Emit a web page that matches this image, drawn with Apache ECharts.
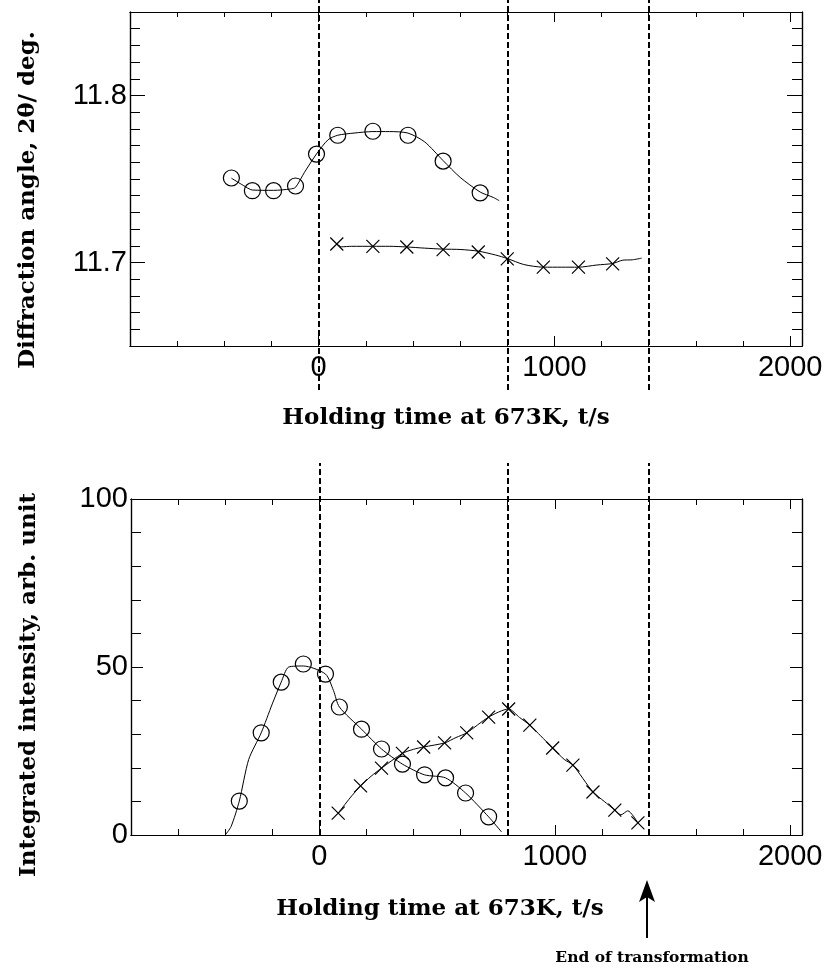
<!DOCTYPE html>
<html>
<head>
<meta charset="utf-8">
<script src="https://cdn.jsdelivr.net/npm/echarts@6/dist/echarts.min.js"></script>
<style>
  html, body { margin: 0; padding: 0; background: #fff; }
  #main { width: 834px; height: 973px; }
</style>
</head>
<body>
<div id="main"></div>
<script>
// ---- x axis (shared) ----
const X_MIN = -800, X_MAX = 2050;
const xMinorTicks = [-800, -600, -400, -200, 0, 200, 400, 600, 800, 1000, 1200, 1400, 1600, 1800, 2000];
const xMajorTicks = [0, 1000, 2000];
const xLabels = [0, 1000, 2000];

// dashed marker times (start, 800 s, end of transformation)
const markTimes = [0, 800, 1400];

// ---- top panel: diffraction angle ----
const topYMinor = [11.66, 11.67, 11.68, 11.69, 11.7, 11.71, 11.72, 11.73, 11.74, 11.75, 11.76, 11.77, 11.78, 11.79, 11.8, 11.81, 11.82, 11.83, 11.84];
const topYMajor = [11.7, 11.8];
const topYLabels = [11.7, 11.8];

// circles
const angCircT = [-370, -281, -191, -98, -9, 81, 230, 379, 528, 685];
const angCircV = [11.7506, 11.7430, 11.7430, 11.7458, 11.7649, 11.7762, 11.7786, 11.7762, 11.7607, 11.7417];
// fitted curve through circles
const angCircFitT = [-370, -320, -281, -191, -120, -98, -60, -9, 40, 81, 150, 230, 300, 379, 450, 528, 600, 685, 740, 766];
const angCircFitV = [11.7505, 11.7462, 11.7434, 11.7432, 11.7440, 11.7450, 11.7540, 11.7650, 11.7735, 11.7762, 11.7775, 11.7784, 11.7784, 11.7775, 11.7722, 11.7610, 11.7510, 11.7422, 11.7390, 11.7370];

// crosses
const angCrossT = [77, 230, 374, 528, 677, 800, 953, 1102, 1247];
const angCrossV = [11.7111, 11.7097, 11.7093, 11.7077, 11.7063, 11.7022, 11.6972, 11.6972, 11.6992];
const angCrossFitT = [77, 97, 140, 230, 300, 374, 450, 528, 600, 677, 750, 800, 870, 953, 1030, 1102, 1180, 1247, 1290, 1330, 1370];
const angCrossFitV = [11.7111, 11.7094, 11.7097, 11.7097, 11.7097, 11.7093, 11.7086, 11.7080, 11.7078, 11.7068, 11.7045, 11.7024, 11.6988, 11.6972, 11.6972, 11.6972, 11.6985, 11.6994, 11.7014, 11.7016, 11.7026];

// ---- bottom panel: integrated intensity ----
const botYMinor = [10, 20, 30, 40, 50, 60, 70, 80, 90];
const botYMajor = [0, 50, 100];
const botYLabels = [0, 50, 100];

const intCircT = [-340, -247, -162, -68, 26, 85, 179, 264, 353, 447, 536, 621, 719];
const intCircV = [10.1, 30.4, 45.5, 50.9, 47.9, 38.1, 31.5, 25.6, 21.1, 17.9, 17.0, 12.5, 5.4];
const intCircFitT = [-400, -375, -340, -300, -247, -200, -162, -130, -68, 26, 60, 85, 179, 264, 353, 447, 536, 621, 719, 774];
const intCircFitV = [0, 2.5, 10.1, 22.5, 30.4, 39.0, 45.5, 50.0, 50.3, 47.9, 43.0, 38.1, 31.5, 25.6, 21.1, 17.9, 17.0, 12.5, 5.4, 0.9];

const intCrossT = [80, 175, 264, 353, 443, 532, 626, 719, 804, 894, 991, 1077, 1162, 1255, 1353];
const intCrossV = [6.5, 14.6, 19.9, 24.3, 26.2, 27.4, 30.4, 35.1, 37.5, 32.7, 25.9, 20.8, 12.8, 7.4, 3.6];
const intCrossFitT = [80, 130, 175, 220, 264, 353, 400, 443, 532, 580, 626, 719, 804, 850, 894, 940, 991, 1040, 1077, 1162, 1210, 1255, 1281, 1310, 1353];
const intCrossFitV = [6.5, 11.0, 14.6, 17.5, 19.9, 24.3, 25.5, 26.2, 27.4, 29.0, 30.4, 35.1, 37.5, 35.0, 32.7, 29.5, 25.9, 22.5, 20.8, 12.8, 10.0, 7.4, 6.0, 7.2, 3.6];

// ---- helpers ----
const INK = '#000';
const LABEL_FONT = 'Liberation Sans';
const TITLE_FONT = 'bold 23px "DejaVu Serif"';
const CROSS = 'path://M0,0L10,10M10,0L0,10';

function pairs(t, v) { return t.map((x, i) => [x, v[i]]); }

function xAx(grid, pos, ticks, len, labels) {
  return {
    type: 'value', gridIndex: grid, position: pos, min: X_MIN, max: X_MAX,
    axisLine: { show: true, onZero: false, lineStyle: { color: INK, width: 1.2 } },
    axisTick: { show: true, inside: true, length: len, customValues: ticks, lineStyle: { color: INK, width: 1 } },
    axisLabel: labels ? { show: true, customValues: labels, formatter: v => String(v), color: INK, fontFamily: LABEL_FONT, fontSize: 29, margin: 7 } : { show: false },
    splitLine: { show: false }
  };
}

function yAx(grid, pos, min, max, ticks, len, labels) {
  return {
    type: 'value', gridIndex: grid, position: pos, min: min, max: max,
    axisLine: { show: true, onZero: false, lineStyle: { color: INK, width: 1.2 } },
    axisTick: { show: true, inside: true, length: len, customValues: ticks, lineStyle: { color: INK, width: 1 } },
    axisLabel: labels ? { show: true, customValues: labels, formatter: v => String(v), color: INK, fontFamily: LABEL_FONT, fontSize: 29, margin: 3 } : { show: false },
    splitLine: { show: false }
  };
}

function hiddenX(grid) {
  return { type: 'value', gridIndex: grid, min: X_MIN, max: X_MAX, show: false };
}
function hiddenY(grid) {
  return { type: 'value', gridIndex: grid, min: 0, max: 1, show: false };
}

function fitLine(name, xi, yi, data) {
  return {
    name, type: 'line', xAxisIndex: xi, yAxisIndex: yi, data,
    showSymbol: false, smooth: 0.25, silent: true,
    lineStyle: { color: INK, width: 1 }, z: 3
  };
}
function markers(name, xi, yi, data, symbol) {
  return {
    name, type: 'scatter', xAxisIndex: xi, yAxisIndex: yi, data,
    symbol, symbolSize: symbol === CROSS ? 13 : 16, silent: true,
    itemStyle: { color: 'rgba(0,0,0,0)', opacity: 1, borderColor: INK, borderWidth: 1.2 },
    z: 4
  };
}
function dashes(xi, yi) {
  return {
    type: 'scatter', xAxisIndex: xi, yAxisIndex: yi, data: [], silent: true,
    markLine: {
      silent: true, symbol: ['none', 'none'], label: { show: false },
      lineStyle: { color: INK, width: 2, type: [6, 3] },
      data: markTimes.map(t => ({ xAxis: t }))
    },
    z: 5
  };
}

// axes: grid0 x 0..3, grid1 x 4..7, overlays 8, 9
const xAxes = [
  xAx(0, 'bottom', xMinorTicks, 5, xLabels), xAx(0, 'bottom', xMajorTicks, 10),
  xAx(0, 'top', xMinorTicks, 5), xAx(0, 'top', xMajorTicks, 10),
  xAx(1, 'bottom', xMinorTicks, 6, xLabels), xAx(1, 'bottom', xMajorTicks, 10),
  xAx(1, 'top', xMinorTicks, 6), xAx(1, 'top', xMajorTicks, 10),
  hiddenX(2), hiddenX(3)
];
const yAxes = [
  yAx(0, 'left', 11.65, 11.85, topYMinor, 10, topYLabels), yAx(0, 'left', 11.65, 11.85, topYMajor, 15),
  yAx(0, 'right', 11.65, 11.85, topYMinor, 10), yAx(0, 'right', 11.65, 11.85, topYMajor, 15),
  yAx(1, 'left', 0, 100, botYMinor, 10, botYLabels), yAx(1, 'left', 0, 100, botYMajor, 12),
  yAx(1, 'right', 0, 100, botYMinor, 10), yAx(1, 'right', 0, 100, botYMajor, 12),
  hiddenY(2), hiddenY(3)
];

const chart = echarts.init(document.getElementById('main'), null, { renderer: 'canvas' });

chart.setOption({
  backgroundColor: '#fff',
  animation: false,
  grid: [
    { left: 130, top: 12, width: 672, height: 334, containLabel: false },
    { left: 131, top: 499, width: 671, height: 336, containLabel: false },
    { left: 130, top: 0, width: 672, height: 390, containLabel: false },
    { left: 131, top: 463, width: 671, height: 372, containLabel: false }
  ],
  xAxis: xAxes,
  yAxis: yAxes,
  series: [
    fitLine('angle-circle-fit', 0, 0, pairs(angCircFitT, angCircFitV)),
    markers('angle-circle', 0, 0, pairs(angCircT, angCircV), 'circle'),
    fitLine('angle-cross-fit', 0, 0, pairs(angCrossFitT, angCrossFitV)),
    markers('angle-cross', 0, 0, pairs(angCrossT, angCrossV), CROSS),
    fitLine('int-circle-fit', 4, 4, pairs(intCircFitT, intCircFitV)),
    markers('int-circle', 4, 4, pairs(intCircT, intCircV), 'circle'),
    fitLine('int-cross-fit', 4, 4, pairs(intCrossFitT, intCrossFitV)),
    markers('int-cross', 4, 4, pairs(intCrossT, intCrossV), CROSS),
    dashes(8, 8),
    dashes(9, 9)
  ],
  graphic: [
    { type: 'text', x: 28, y: 200, rotation: Math.PI / 2,
      style: { text: 'Diffraction angle, 2θ/ deg.', font: TITLE_FONT, fill: INK, align: 'center', verticalAlign: 'middle' } },
    { type: 'text', x: 29, y: 685, rotation: Math.PI / 2,
      style: { text: 'Integrated intensity, arb. unit', font: TITLE_FONT, fill: INK, align: 'center', verticalAlign: 'middle' } },
    { type: 'text', x: 446, y: 418,
      style: { text: 'Holding time at 673K, t/s', font: TITLE_FONT, fill: INK, align: 'center', verticalAlign: 'middle' } },
    { type: 'text', x: 440, y: 909,
      style: { text: 'Holding time at 673K, t/s', font: TITLE_FONT, fill: INK, align: 'center', verticalAlign: 'middle' } },
    { type: 'line', shape: { x1: 647, y1: 938, x2: 647, y2: 895 }, style: { stroke: INK, lineWidth: 2 } },
    { type: 'polygon', shape: { points: [[647, 880], [639, 902], [647, 897], [655, 902]] }, style: { fill: INK } },
    { type: 'text', x: 652, y: 958,
      style: { text: 'End of transformation', font: 'bold 15.5px "DejaVu Serif"', fill: INK, align: 'center', verticalAlign: 'middle' } }
  ]
});
</script>
</body>
</html>
